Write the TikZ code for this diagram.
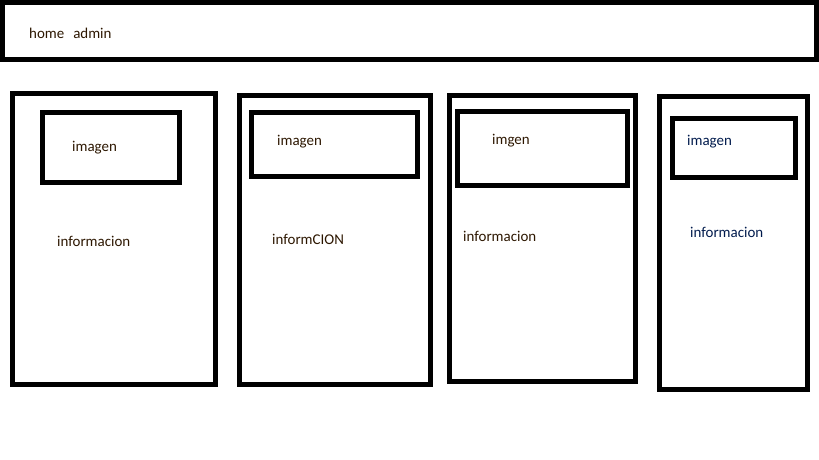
\documentclass[tikz,border=0pt]{standalone}
\usepackage{fontspec}
\setmainfont{Carlito}
\usepackage{tikz}

\definecolor{browntext}{RGB}{44,22,0}
\definecolor{navytext}{RGB}{0,26,76}

\begin{document}
\begin{tikzpicture}[x=1bp, y=-1bp,
    frame/.style={line width=5bp, draw=black},
    label/.style={anchor=base west, inner sep=0pt, font=\fontsize{15}{18}\selectfont, browntext}]
\useasboundingbox (0,0) rectangle (819,460);

% Header bar
\draw[frame] (2.5,2.5) rectangle (816.5,59.5);
\node[label] (menu) at (29,39) {home\hspace{0.6em}admin};

% Cards
\foreach \l/\t/\r/\b in {12.5/93.5/215.5/384.5, 239.5/95.5/430.5/384.5,
    449.5/95.5/635.5/381.5, 659.5/96.5/807.5/389.5} {
    \draw[frame] (\l,\t) rectangle (\r,\b);
}

% Image boxes
\foreach \l/\t/\r/\b in {42.5/112.5/179.5/182.5, 251.5/112.5/417.5/176.5,
    457.5/111.5/627.5/185.5, 672.5/118.5/795.5/177.5} {
    \draw[frame] (\l,\t) rectangle (\r,\b);
}

% Texts
\node[label] (imgA) at (72,152) {imagen};
\node[label] (infoA) at (57,247) {informacion};

\node[label] (imgB) at (277,146) {imagen};
\node[label] (infoB) at (272,245) {informCION};

\node[label] (imgC) at (492,145) {imgen};
\node[label] (infoC) at (463,242) {informacion};

\node[label, navytext] (imgD) at (687,146) {imagen};
\node[label, navytext] (infoD) at (690,238) {informacion};
\end{tikzpicture}
\end{document}
